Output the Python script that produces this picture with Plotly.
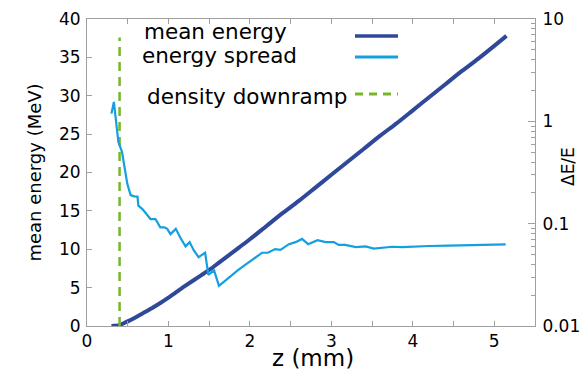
import plotly.graph_objects as go

# mean energy (MeV) vs z (mm)
z_mean = [0.30, 0.40, 0.45, 0.50, 0.60, 0.70, 0.80, 0.90, 1.00, 1.10, 1.20, 1.40, 1.50, 1.60, 1.80,
          2.00, 2.20, 2.40, 2.60, 2.80, 3.00, 3.20, 3.40, 3.60, 3.80, 4.00, 4.20,
          4.40, 4.60, 4.80, 5.00, 5.15]
mean_energy = [0.0, 0.1, 0.35, 0.6, 1.15, 1.75, 2.35, 3.0, 3.7, 4.45, 5.2, 6.6, 7.3, 8.1, 9.7,
               11.3, 13.0, 14.7, 16.3, 18.0, 19.7, 21.4, 23.1, 24.8, 26.4, 28.1, 29.8,
               31.5, 33.2, 34.8, 36.5, 37.8]

# energy spread (dE/E) vs z (mm)
z_spread = [0.30, 0.33, 0.36, 0.385, 0.43, 0.45, 0.47, 0.495, 0.535, 0.58, 0.62, 0.63,
            0.68, 0.73, 0.78, 0.84, 0.90, 0.95, 0.985, 1.025, 1.09, 1.15, 1.21, 1.26,
            1.31, 1.37, 1.45, 1.49, 1.56, 1.62, 1.74, 1.85, 1.95, 2.05, 2.15, 2.22,
            2.31, 2.375, 2.48, 2.56, 2.64, 2.715, 2.83, 2.93, 3.03, 3.09, 3.17, 3.30,
            3.42, 3.52, 3.64, 3.75, 3.87, 4.03, 4.20, 4.44, 4.70, 4.90, 5.14]
energy_spread = [1.19, 1.55, 0.95, 0.63, 0.50, 0.40, 0.33, 0.245, 0.19, 0.185, 0.184, 0.15,
                 0.139, 0.125, 0.111, 0.111, 0.092, 0.092, 0.089, 0.079, 0.089, 0.072, 0.060, 0.066,
                 0.055, 0.047, 0.052, 0.0316, 0.035, 0.0247, 0.0298, 0.035, 0.040, 0.046, 0.052, 0.052,
                 0.0565, 0.0555, 0.063, 0.066, 0.071, 0.063, 0.069, 0.066, 0.066, 0.062, 0.062, 0.059,
                 0.060, 0.057, 0.058, 0.0595, 0.059, 0.060, 0.0605, 0.061, 0.0615, 0.062, 0.0627]

# density downramp position
z_ramp = [0.40, 0.40]
ramp_energy = [0.0, 37.6]

legend_labels = ["mean energy", "energy spread", "density downramp"]

C_MEAN = "#2f4899"
C_SPREAD = "#14a0e0"
C_RAMP = "#74b72a"
FRAME = "#a0a0a0"
FONT = "DejaVu Sans"

W, H = 585, 371
L, R, T, B = 87, 50, 19, 45
pw, ph = W - L - R, H - T - B


def px_x(x):
    return (x - L) / pw


def px_y(y):
    return (H - y - B) / ph


fig = go.Figure()
fig.add_trace(go.Scatter(x=z_mean, y=mean_energy, mode="lines",
                         line=dict(color=C_MEAN, width=4, shape="spline", smoothing=0.6),
                         yaxis="y"))
fig.add_trace(go.Scatter(x=z_spread, y=energy_spread, mode="lines",
                         line=dict(color=C_SPREAD, width=2.2), yaxis="y2"))
fig.add_trace(go.Scatter(x=z_ramp, y=ramp_energy, mode="lines",
                         line=dict(color=C_RAMP, width=2.5, dash="9px,6px"), yaxis="y"))

# legend (text left, sample right)
sample_y = [36, 57, 94]
text_y = [31, 55, 96]
text_x = [142, 140, 145]
sample_styles = [dict(color=C_MEAN, width=3.5, dash="solid"),
                 dict(color=C_SPREAD, width=3, dash="solid"),
                 dict(color=C_RAMP, width=3, dash="8px,6px")]
annotations = []
shapes = []
for i, lab in enumerate(legend_labels):
    annotations.append(dict(x=px_x(text_x[i]), y=px_y(text_y[i]), xref="paper", yref="paper",
                            text=lab, showarrow=False, xanchor="left", yanchor="middle",
                            font=dict(family=FONT, size=21.5, color="black")))
    shapes.append(dict(type="line", xref="paper", yref="paper",
                       x0=px_x(355), x1=px_x(398), y0=px_y(sample_y[i]), y1=px_y(sample_y[i]),
                       line=sample_styles[i]))

# axis titles placed as annotations
annotations.append(dict(x=px_x(313), y=px_y(357.5), xref="paper", yref="paper", text="z (mm)",
                        showarrow=False, xanchor="center", yanchor="middle", borderpad=0,
                        font=dict(family=FONT, size=23, color="black")))
annotations.append(dict(x=px_x(568), y=px_y(167), xref="paper", yref="paper", text="ΔE/E",
                        showarrow=False, xanchor="center", yanchor="middle", textangle=-90,
                        font=dict(family=FONT, size=17, color="black")))

fig.update_layout(
    width=W, height=H,
    margin=dict(l=L, r=R, t=T, b=B, autoexpand=False),
    paper_bgcolor="white", plot_bgcolor="white",
    showlegend=False,
    annotations=annotations, shapes=shapes,
    font=dict(family=FONT, size=17, color="black"),
    xaxis=dict(range=[0, 5.5], dtick=1, tick0=0, showgrid=False, zeroline=False,
               showline=True, linecolor=FRAME, linewidth=1, mirror="ticks",
               ticks="inside", ticklen=5, tickcolor=FRAME, automargin=False,
               ticklabelstandoff=0,
               minor=dict(dtick=0.5, ticks="inside", ticklen=5, tickcolor=FRAME),
               tickfont=dict(size=17)),
    yaxis=dict(range=[0, 40], dtick=5, showgrid=False, zeroline=False,
               showline=True, linecolor=FRAME, linewidth=1, automargin=False,
               ticks="inside", ticklen=5, tickcolor=FRAME, ticklabelstandoff=2,
               title=dict(text="mean energy (MeV)", font=dict(size=18), standoff=12),
               tickfont=dict(size=17)),
    yaxis2=dict(type="log", range=[-2, 1], overlaying="y", side="right",
                showgrid=False, zeroline=False, showline=True, linecolor=FRAME,
                linewidth=1, ticks="inside", ticklen=7, tickcolor=FRAME, automargin=False,
                ticklabelstandoff=3,
                tickvals=[0.01, 0.1, 1, 10], ticktext=["0.01", "0.1", "1", "10"],
                minor=dict(ticks="inside", ticklen=4, tickcolor=FRAME,
                           tickvals=[m * 10 ** e for e in (-2, -1, 0) for m in range(2, 10)]),
                tickfont=dict(size=17)),
)

fig.write_html("out.html")
